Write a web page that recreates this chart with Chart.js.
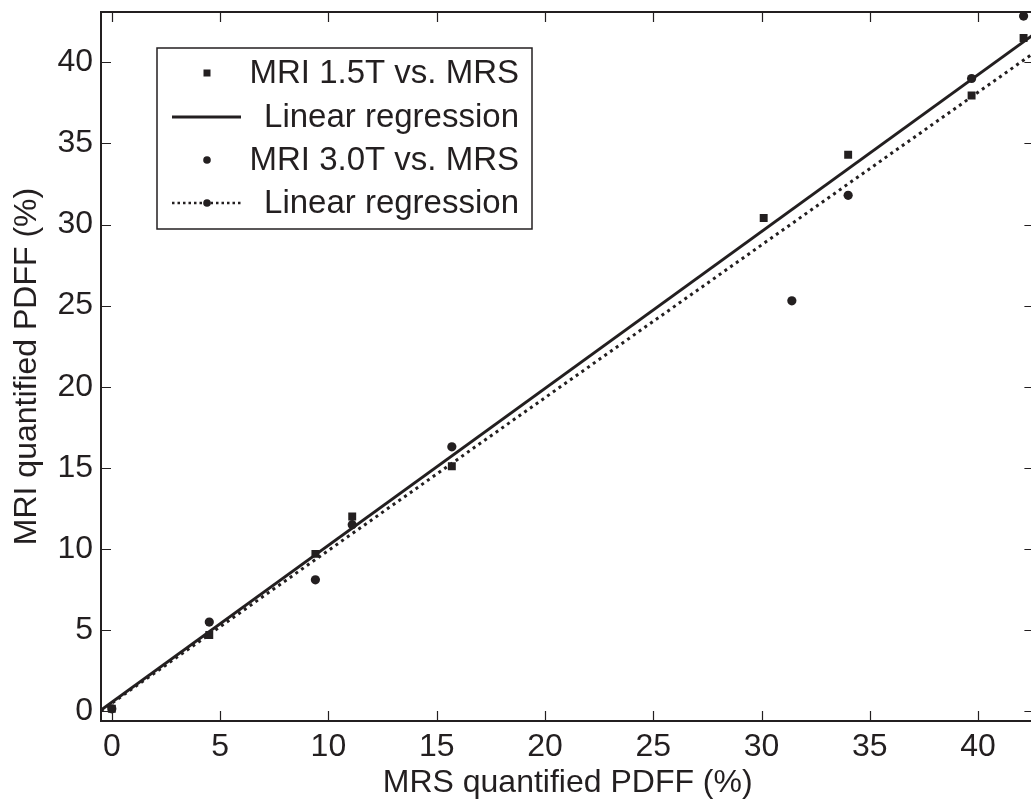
<!DOCTYPE html>
<html>
<head>
<meta charset="utf-8">
<script src="https://cdn.jsdelivr.net/npm/chart.js@4.4.1/dist/chart.umd.min.js"></script>
<style>
  html, body { margin: 0; padding: 0; background: #fff; overflow: hidden; }
  #wrap { width: 1040px; height: 803px; position: relative; }
</style>
</head>
<body>
<div id="wrap"><canvas id="c"></canvas></div>
<script>
// ---- data ----
const mrsX15 = [0.0, 4.5, 9.4, 11.1, 15.7, 30.1, 34.0, 39.7, 42.1];
const mri15  = [0.15, 4.7, 9.7, 12.0, 15.1, 30.4, 34.3, 37.95, 41.5];
const mrsX30 = [0.0, 4.5, 9.4, 11.1, 15.7, 31.4, 34.0, 39.7, 42.1];
const mri30  = [0.15, 5.5, 8.1, 11.5, 16.3, 25.3, 31.8, 39.0, 42.85];
const regX   = [-0.5, 42.6];
const reg15Y = [0.07, 41.75];
const reg30Y = [0.03, 40.6];
const xTicks = [0, 5, 10, 15, 20, 25, 30, 35, 40];
const yTicks = [0, 5, 10, 15, 20, 25, 30, 35, 40];
const legendLabels = ['MRI 1.5T vs. MRS', 'Linear regression', 'MRI 3.0T vs. MRS', 'Linear regression'];
const xTitle = 'MRS quantified PDFF (%)';
const yTitle = 'MRI quantified PDFF (%)';

const INK = '#231f20';
const FONT = 'Liberation Sans, Arial, Helvetica, sans-serif';
const toPts = (xs, ys) => xs.map((x, i) => ({ x, y: ys[i] }));

const insideTicks = {
  id: 'insideTicks',
  afterDraw(chart) {
    const { ctx, chartArea: a, scales } = chart;
    ctx.save();
    ctx.strokeStyle = INK;
    ctx.lineWidth = 1.2;
    const L = 10;
    xTicks.forEach(v => {
      const px = Math.round(scales.x.getPixelForValue(v)) + 0.5;
      ctx.beginPath();
      ctx.moveTo(px, a.bottom); ctx.lineTo(px, a.bottom - L);
      ctx.moveTo(px, a.top); ctx.lineTo(px, a.top + L);
      ctx.stroke();
    });
    yTicks.forEach(v => {
      const py = Math.round(scales.y.getPixelForValue(v)) + 0.5;
      ctx.beginPath();
      ctx.moveTo(a.left, py); ctx.lineTo(a.left + L, py);
      ctx.moveTo(a.right, py); ctx.lineTo(a.right - L, py);
      ctx.stroke();
    });
    ctx.lineWidth = 2;
    ctx.strokeRect(a.left, a.top, a.right - a.left, a.bottom - a.top);
    ctx.restore();
  }
};

const customLegend = {
  id: 'customLegend',
  afterDraw(chart) {
    const { ctx } = chart;
    const ds = chart.data.datasets;
    const box = { l: 157, t: 48, r: 532, b: 229 };
    ctx.save();
    ctx.fillStyle = '#fff';
    ctx.fillRect(box.l, box.t, box.r - box.l, box.b - box.t);
    ctx.strokeStyle = INK;
    ctx.lineWidth = 1.5;
    ctx.strokeRect(box.l, box.t, box.r - box.l, box.b - box.t);
    const rows = [73, 117, 160, 203];
    const mx = 207, lx0 = 172, lx1 = 241;
    ctx.fillStyle = INK;
    ctx.fillRect(mx - 3.5, rows[0] - 3.5, 7, 7);
    ctx.beginPath(); ctx.lineWidth = 3; ctx.moveTo(lx0, rows[1]); ctx.lineTo(lx1, rows[1]); ctx.stroke();
    ctx.beginPath(); ctx.arc(mx, rows[2], 3.8, 0, Math.PI * 2); ctx.fill();
    ctx.beginPath(); ctx.lineWidth = 2.5; ctx.setLineDash([2.5, 3]);
    ctx.moveTo(lx0, rows[3]); ctx.lineTo(lx1, rows[3]); ctx.stroke();
    ctx.setLineDash([]);
    ctx.beginPath(); ctx.arc(mx, rows[3], 3.8, 0, Math.PI * 2); ctx.fill();
    ctx.font = '33px ' + FONT;
    ctx.textAlign = 'right';
    ctx.textBaseline = 'middle';
    ds.forEach((d, i) => ctx.fillText(d.label, 519, rows[i] + 1));
    ctx.restore();
  }
};

new Chart(document.getElementById('c'), {
  type: 'scatter',
  data: {
    datasets: [
      { label: legendLabels[0], data: toPts(mrsX15, mri15), pointStyle: 'rect', pointRadius: 5.6,
        backgroundColor: INK, borderColor: INK, borderWidth: 0, order: 2 },
      { label: legendLabels[1], data: toPts(regX, reg15Y), showLine: true, pointRadius: 0,
        borderColor: INK, borderWidth: 3, order: 3 },
      { label: legendLabels[2], data: toPts(mrsX30, mri30), pointStyle: 'circle', pointRadius: 4.6,
        backgroundColor: INK, borderColor: INK, borderWidth: 0, order: 1 },
      { label: legendLabels[3], data: toPts(regX, reg30Y), showLine: true, pointRadius: 0,
        borderColor: INK, borderWidth: 3, borderDash: [3, 4], order: 4 }
    ]
  },
  options: {
    responsive: true,
    maintainAspectRatio: false,
    animation: false,
    layout: { padding: { left: 0, top: 12, right: 2, bottom: 0 } },
    plugins: { legend: { display: false }, tooltip: { enabled: false } },
    scales: {
      x: {
        type: 'linear', min: -0.5, max: 42.6,
        afterFit: s => { s.height = 82; s.paddingLeft = 0; s.paddingRight = 0; },
        grid: { display: false, drawTicks: false },
        border: { display: false },
        ticks: { stepSize: 5, includeBounds: false, padding: 7, color: INK,
                 font: { family: FONT, size: 32 }, maxRotation: 0 },
        title: { display: true, text: xTitle, color: INK, font: { family: FONT, size: 32 },
                 padding: { top: 0, bottom: 1 } }
      },
      y: {
        type: 'linear', min: -0.6, max: 43.1,
        afterFit: s => { s.width = 101; s.paddingTop = 0; s.paddingBottom = 0; },
        grid: { display: false, drawTicks: false },
        border: { display: false },
        ticks: { stepSize: 5, includeBounds: false, padding: 8, color: INK,
                 font: { family: FONT, size: 32 } },
        title: { display: true, text: yTitle, color: INK, font: { family: FONT, size: 32 },
                 padding: { top: 8, bottom: 0 } }
      }
    }
  },
  plugins: [insideTicks, customLegend]
});
</script>
</body>
</html>
